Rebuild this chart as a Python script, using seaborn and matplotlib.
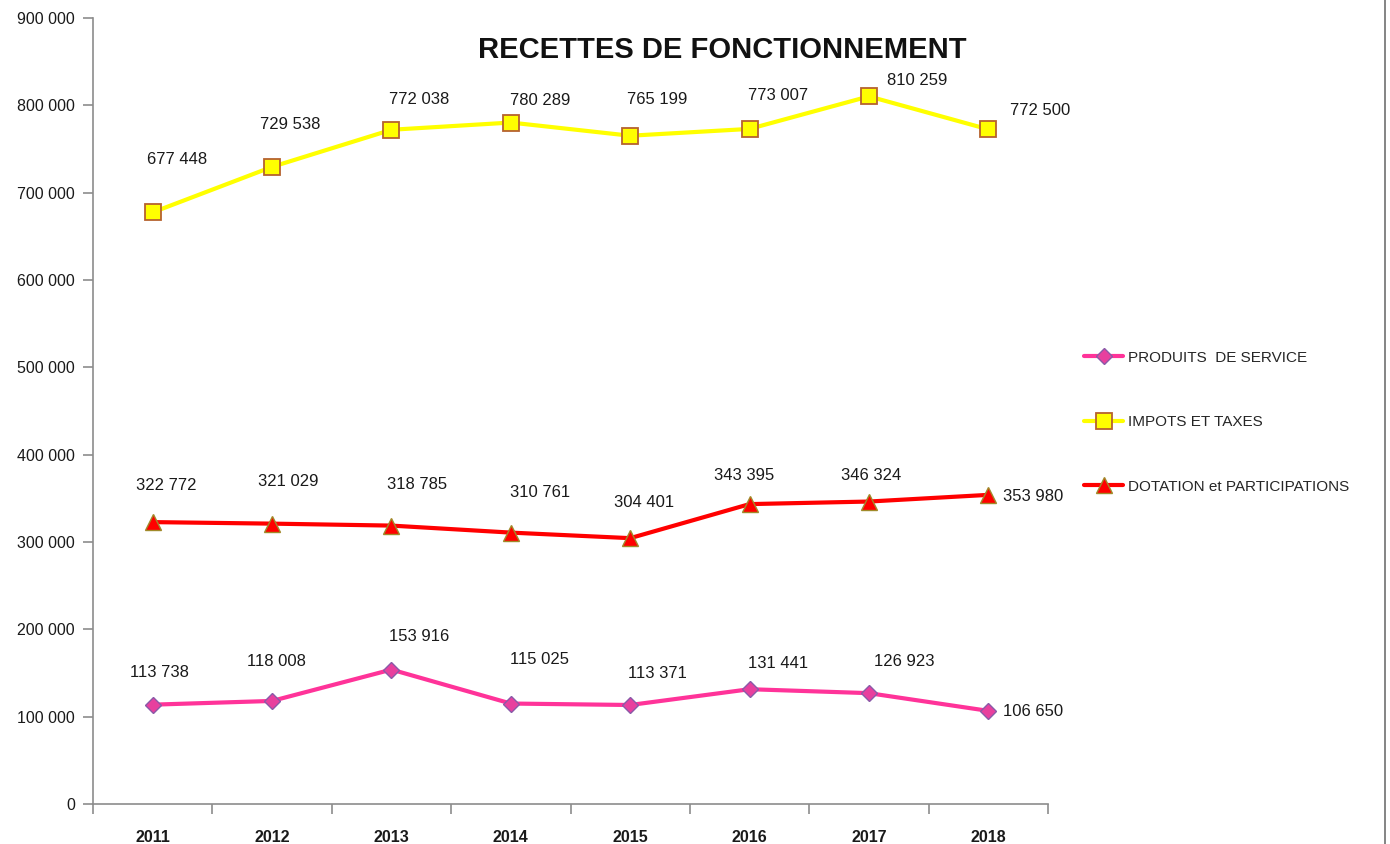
import numpy as np
import pandas as pd
import matplotlib
matplotlib.use("Agg")
import matplotlib.pyplot as plt
from matplotlib.lines import Line2D
from matplotlib.ticker import FuncFormatter, FixedLocator
import seaborn as sns

# Données
annees = [2011, 2012, 2013, 2014, 2015, 2016, 2017, 2018]
produits_service = [113738, 118008, 153916, 115025, 113371, 131441, 126923, 106650]
impots_taxes = [677448, 729538, 772038, 780289, 765199, 773007, 810259, 772500]
dotation = [322772, 321029, 318785, 310761, 304401, 343395, 346324, 353980]
y_ticks = [0, 100000, 200000, 300000, 400000, 500000, 600000, 700000, 800000, 900000]

# décalage des étiquettes (pixels), comme placées à la main dans Excel
off_produits = [(7, 32), (4, 39), (28, 33), (29, 44), (27, 31), (28, 26), (35, 32), (45, -1)]
off_impots = [(24, 53), (18, 42), (28, 30), (29, 22), (27, 36), (28, 33), (48, 16), (52, 19)]
off_dotation = [(14, 37), (16, 42), (26, 41), (29, 40), (14, 36), (-5, 29), (2, 26), (45, -2)]

sns.set_style("white")
plt.rcParams["font.family"] = ["Liberation Sans", "DejaVu Sans"]

fig = plt.figure(figsize=(13.9, 8.44), dpi=100)
ax = fig.add_axes([93 / 1390, 1 - 804 / 844, (1048 - 93) / 1390, (804 - 18) / 844])

df = pd.DataFrame({"annee": annees, "produits": produits_service,
                   "impots": impots_taxes, "dotation": dotation})

sns.lineplot(data=df, x="annee", y="produits", ax=ax, color="#FF3399", lw=3,
             marker="D", markersize=8, markerfacecolor="#E8409E",
             markeredgecolor="#8A5AA8", markeredgewidth=1, label="PRODUITS  DE SERVICE")
sns.lineplot(data=df, x="annee", y="impots", ax=ax, color="#FFFF00", lw=3,
             marker="s", markersize=12, markerfacecolor="#FFFF00",
             markeredgecolor="#B5622E", markeredgewidth=1.3, label="IMPOTS ET TAXES")
sns.lineplot(data=df, x="annee", y="dotation", ax=ax, color="#FF0000", lw=3,
             marker="^", markersize=11, markerfacecolor="#FF0000",
             markeredgecolor="#A08A2A", markeredgewidth=1, label="DOTATION et PARTICIPATIONS")


def fmt_fr(v):
    return f"{int(v):,}".replace(",", " ")


for serie, offs in [(produits_service, off_produits), (impots_taxes, off_impots),
                    (dotation, off_dotation)]:
    for a, v, (dx, dy) in zip(annees, serie, offs):
        ax.annotate(fmt_fr(v), (a, v), xytext=(dx, dy), textcoords="offset pixels",
                    ha="center", va="center", fontsize=12, color="#1a1a1a")

ax.set_xlim(2010.5, 2018.5)
ax.set_ylim(0, 900000)
ax.yaxis.set_major_locator(FixedLocator(y_ticks))
ax.yaxis.set_major_formatter(FuncFormatter(lambda v, p: fmt_fr(v)))
ax.set_xticks(annees)
ax.set_xticklabels([str(a) for a in annees], fontweight="bold", fontsize=11.5)
ax.set_xticks(np.arange(2010.5, 2019, 1), minor=True)
ax.tick_params(axis="x", which="major", length=0, pad=19, colors="#1a1a1a")
ax.tick_params(axis="x", which="minor", bottom=True, length=7, color="#8c8c8c", width=1.2)
ax.tick_params(axis="y", left=True, length=7, color="#8c8c8c", width=1.2, labelsize=11.5,
               labelcolor="#1a1a1a", pad=6)
ax.set_xlabel("")
ax.set_ylabel("")

for s in ["top", "right"]:
    ax.spines[s].set_visible(False)
for s in ["left", "bottom"]:
    ax.spines[s].set_color("#8c8c8c")
    ax.spines[s].set_linewidth(1.2)

fig.text(722 / 1390, 1 - 50 / 844, "RECETTES DE FONCTIONNEMENT", ha="center",
         va="center", fontsize=21, fontweight="bold", color="#111111")

ax.legend_.remove()
h, l = ax.get_legend_handles_labels()
fig.legend(h, l, loc="upper left", bbox_to_anchor=(1070 / 1390, 1 - 337 / 844),
           frameon=False, fontsize=11, handlelength=2.6, labelspacing=3.3,
           handletextpad=0.3)

fig.add_artist(Line2D([1385 / 1390, 1385 / 1390], [0, 1], color="#707070", lw=1.2))

fig.savefig("out.png", dpi=100)
